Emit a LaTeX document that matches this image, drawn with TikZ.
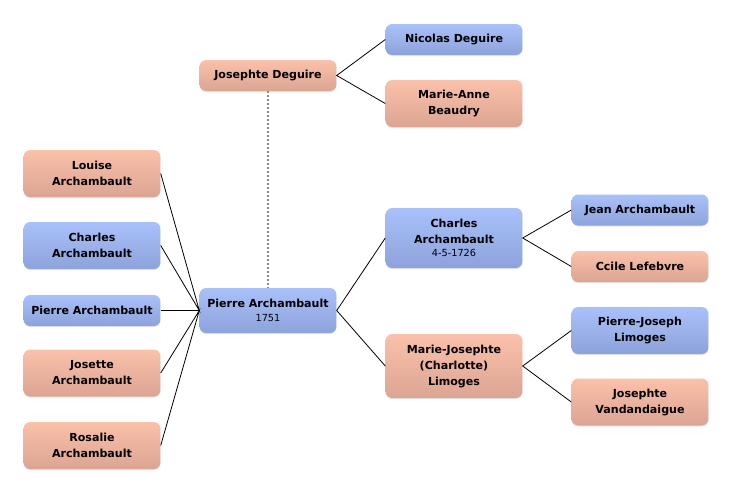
\documentclass[tikz,border=0pt]{standalone}
\usepackage{fontspec}
\setmainfont{DejaVu Sans}
\usetikzlibrary{shadows}
\definecolor{blueT}{HTML}{A9C1FA}
\definecolor{blueB}{HTML}{8CA2DA}
\definecolor{pinkT}{HTML}{FBC1A9}
\definecolor{pinkB}{HTML}{DBA593}
\definecolor{dotgray}{HTML}{8A8A8A}

\begin{document}
\begin{tikzpicture}[x=0.75pt,y=-0.75pt,
    person/.style={rounded corners=5pt, minimum width=102pt, text width=96pt,
      align=center, inner ysep=3pt,
      font=\bfseries\fontsize{8.3}{12}\selectfont,
      drop shadow={opacity=0.2,shadow xshift=0pt,shadow yshift=-0.8pt}},
    male/.style={person, top color=blueT, bottom color=blueB},
    female/.style={person, top color=pinkT, bottom color=pinkB},
    one/.style={minimum height=23.25pt},
    two/.style={minimum height=35.25pt},
    link/.style={line width=0.6pt}]
    \useasboundingbox (0,0) rectangle (732,494);
            % Deguire side
            \node[female,one] (jdeg) at (268,75.5) {Josephte Deguire};
            \node[male,one] (nicolas) at (454,39.5) {Nicolas Deguire};
            \node[female,two] (marieanne) at (454,103.5) {Marie-Anne\\Beaudry};
            % siblings
            \node[female,two] (louise) at (92,173.5) {Louise\\Archambault};
            \node[male,two] (charlesL) at (92,245.5) {Charles\\Archambault};
            \node[male,one] (pierreL) at (92,310.5) {Pierre Archambault};
            \node[female,two] (josette) at (92,373) {Josette\\Archambault};
            \node[female,two] (rosalie) at (92,445.5) {Rosalie\\Archambault};
            % centre
            \node[male,minimum height=33.75pt] (pierre) at (268,310.5)
                {Pierre Archambault\\[-1.7pt]{\mdseries\fontsize{7.3}{9}\selectfont 1751}};
            % parents
            \node[male,minimum height=45pt] (charles) at (454,238)
                {Charles\\Archambault\\[-2.3pt]{\mdseries\fontsize{7.3}{9}\selectfont 4-5-1726}};
            \node[female,minimum height=48pt] (marie) at (454,366)
                {Marie-Josephte\\(Charlotte)\\Limoges};
            % grandparents
            \node[male,one] (jean) at (640,210) {Jean Archambault};
            \node[female,one] (ccile) at (640,266.5) {Ccile Lefebvre};
            \node[male,two] (pj) at (640,330.5) {Pierre-Joseph\\Limoges};
            \node[female,two] (jv) at (640,402) {Josephte\\Vandandaigue};
            % links
            \draw[link] (louise.east)--(pierre.west)--(charlesL.east);
            \draw[link] (pierreL.east)--(pierre.west);
            \draw[link] (josette.east)--(pierre.west)--(rosalie.east);
            \draw[link] (charles.west)--(pierre.east)--(marie.west);
            \draw[link] (jean.west)--(charles.east)--(ccile.west);
            \draw[link] (pj.west)--(marie.east)--(jv.west);
            \draw[link] (nicolas.west)--(jdeg.east)--(marieanne.west);
            \draw[dotgray,line width=1.3pt,dash pattern=on 1.5pt off 1.5pt] (jdeg.south)--(pierre.north);
    \end{tikzpicture}
\end{document}
